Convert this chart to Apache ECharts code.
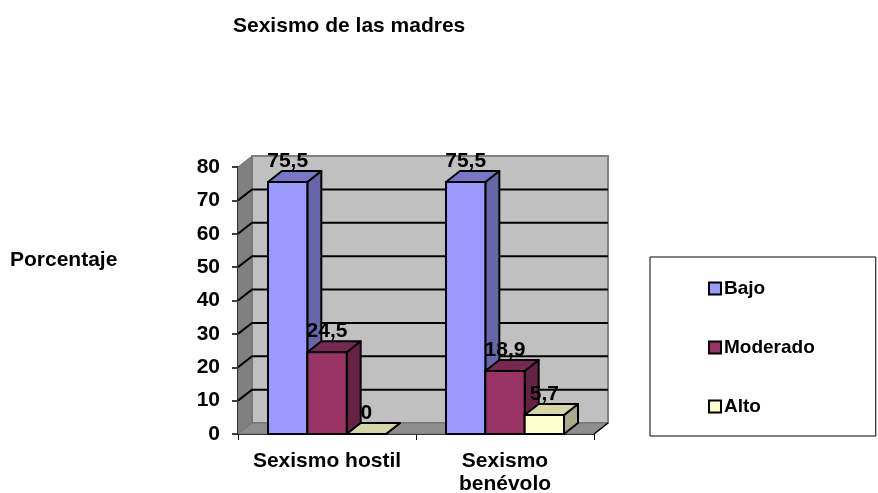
<!DOCTYPE html>
<html><head><meta charset="utf-8">
<style>html,body{margin:0;padding:0;background:#fff}#c{width:878px;height:493px}</style>
<script src="https://cdn.jsdelivr.net/npm/echarts@6/dist/echarts.min.js"></script>
</head><body><div id="c"></div>
<script>
const categories = ['Sexismo hostil', 'Sexismo\nbenévolo'];
const bajo = [75.5, 75.5];
const moderado = [24.5, 18.9];
const alto = [0, 5.7];
const yTicks = [0, 10, 20, 30, 40, 50, 60, 70, 80];
const DX = 14, DY = -11, FONT = '"Liberation Sans", Arial, sans-serif', BARFRAC = 0.221;

const chart = echarts.init(document.getElementById('c'), null, {renderer: 'canvas'});

function wallItem(params, api) {
  const r = params.coordSys;
  const v = api.value(0);
  const y = api.coord([0, v])[1];
  const kids = [];
  const L = r.x, R = r.x + r.width, T = r.y, B = r.y + r.height;
  if (params.dataIndex === 0) {
    kids.push({type: 'polygon', shape: {points: [[L + DX, T + DY], [R + DX, T + DY], [R + DX, B + DY], [L + DX, B + DY]]},
      style: {fill: '#c0c0c0', stroke: '#808080', lineWidth: 2}});
    kids.push({type: 'polygon', shape: {points: [[L, T], [L + DX, T + DY], [L + DX, B + DY], [L, B]]},
      style: {fill: '#808080', stroke: '#707070', lineWidth: 1}});
    kids.push({type: 'polygon', shape: {points: [[L, B], [L + DX, B + DY], [R + DX, B + DY], [R, B]]},
      style: {fill: '#8e8e8e', stroke: '#707070', lineWidth: 1}});
    kids.push({type: 'line', shape: {x1: R, y1: B, x2: R + DX, y2: B + DY}, style: {stroke: '#000', lineWidth: 1.5}});
  }
  const edge = v === yTicks[0] || v === yTicks[yTicks.length - 1];
  if (!edge) {
    kids.push({type: 'polyline', shape: {points: [[L, y], [L + DX, y + DY], [R + DX, y + DY]]},
      style: {stroke: '#000', lineWidth: 2, fill: null}});
  }
  return {type: 'group', children: kids};
}

function barItem(offsetIndex, front, top, side) {
  return function (params, api) {
    const band = api.size([1, 0])[0];
    const w = band * BARFRAC;
    const base = api.coord([api.value(0), 0]);
    const tp = api.coord([api.value(0), api.value(1)]);
    const x0 = base[0] + (offsetIndex - 1.5) * w, x1 = x0 + w;
    const yb = base[1], yt = tp[1];
    const line = {stroke: '#000', lineWidth: 2, lineJoin: 'round'};
    const kids = [
      {type: 'polygon', shape: {points: [[x1, yt], [x1 + DX, yt + DY], [x1 + DX, yb + DY], [x1, yb]]}, style: Object.assign({fill: side}, line)},
      {type: 'polygon', shape: {points: [[x0, yt], [x0 + DX, yt + DY], [x1 + DX, yt + DY], [x1, yt]]}, style: Object.assign({fill: top}, line)}
    ];
    if (yb - yt > 0.5) kids.push({type: 'rect', shape: {x: x0, y: yt, width: w, height: yb - yt}, style: Object.assign({fill: front}, line)});
    return {type: 'group', children: kids};
  };
}

function labelItem(offsetIndex) {
  return function (params, api) {
    const band = api.size([1, 0])[0];
    const w = band * BARFRAC;
    const p = api.coord([api.value(0), api.value(1)]);
    const x = api.coord([api.value(0), 0])[0] + (offsetIndex - 1) * w;
    return {type: 'text', z2: 100, style: {
      text: String(api.value(1)).replace('.', ','), x: x, y: p[1] - 21,
      align: 'center', verticalAlign: 'middle', fill: '#000',
      font: 'bold 21px ' + FONT}};
  };
}

const levels = [
  {name: 'Bajo', values: bajo, c: ['#9999ff', '#7777c8', '#6666aa']},
  {name: 'Moderado', values: moderado, c: ['#993366', '#772850', '#662244']},
  {name: 'Alto', values: alto, c: ['#ffffcc', '#d6d6a8', '#aaaa88']}
];

const series = [{
  type: 'custom', name: 'walls', silent: true, z: 1, data: yTicks.map(v => [v]),
  renderItem: wallItem, encode: {y: 0}, clip: false
}];
levels.forEach((l, i) => {
  series.push({
    type: 'custom', name: l.name, z: 2, clip: false,
    itemStyle: {color: l.c[0]},
    data: l.values.map((v, k) => [k, v]), encode: {x: 0, y: 1},
    renderItem: barItem(i, l.c[0], l.c[1], l.c[2])
  });
});
levels.forEach((l, i) => {
  series.push({
    type: 'custom', name: l.name + ' etiqueta', z: 5, clip: false, silent: true,
    data: l.values.map((v, k) => [k, v]), encode: {x: 0, y: 1},
    renderItem: labelItem(i)
  });
});

chart.setOption({
  animation: false,
  backgroundColor: '#fff',
  title: [
    {text: 'Sexismo de las madres', left: 233, top: 16, padding: 0, textStyle: {fontFamily: FONT, fontSize: 21, fontWeight: 'bold', color: '#000'}},
    {text: 'Porcentaje', left: 10, top: 250, padding: 0, textStyle: {fontFamily: FONT, fontSize: 21, fontWeight: 'bold', color: '#000'}}
  ],
  grid: {left: 238, top: 167, width: 356, height: 267, containLabel: false, outerBoundsMode: 'none'},
  xAxis: {
    type: 'category', data: categories,
    axisLine: {lineStyle: {color: '#000', width: 2}},
    axisTick: {show: true, length: 6, alignWithLabel: false, lineStyle: {color: '#000', width: 1}},
    axisLabel: {margin: 16, fontFamily: FONT, fontSize: 21, fontWeight: 'bold', color: '#000', lineHeight: 23, interval: 0}
  },
  yAxis: {
    type: 'value', min: 0, max: 80, interval: 10,
    splitLine: {show: false},
    axisLine: {show: true, lineStyle: {color: '#000', width: 2}},
    axisTick: {show: true, length: 6, lineStyle: {color: '#000', width: 1.5}},
    axisLabel: {margin: 18, padding: [2, 0, 0, 0], fontFamily: FONT, fontSize: 21, fontWeight: 'bold', color: '#000'}
  },
  legend: {
    show: true, orient: 'vertical', left: 650, top: 257,
    padding: [22, 61, 20, 58], itemGap: 40, itemWidth: 12, itemHeight: 12,
    borderColor: '#000', borderWidth: 1, backgroundColor: '#fff',
    selectedMode: false,
    textStyle: {fontFamily: FONT, fontSize: 19, fontWeight: 'bold', color: '#000', padding: [0, 0, 0, -2]},
    data: levels.map(l => ({name: l.name, icon: 'rect', itemStyle: {color: l.c[0], borderColor: '#000', borderWidth: 2}}))
  },
  series: series
});
</script></body></html>
